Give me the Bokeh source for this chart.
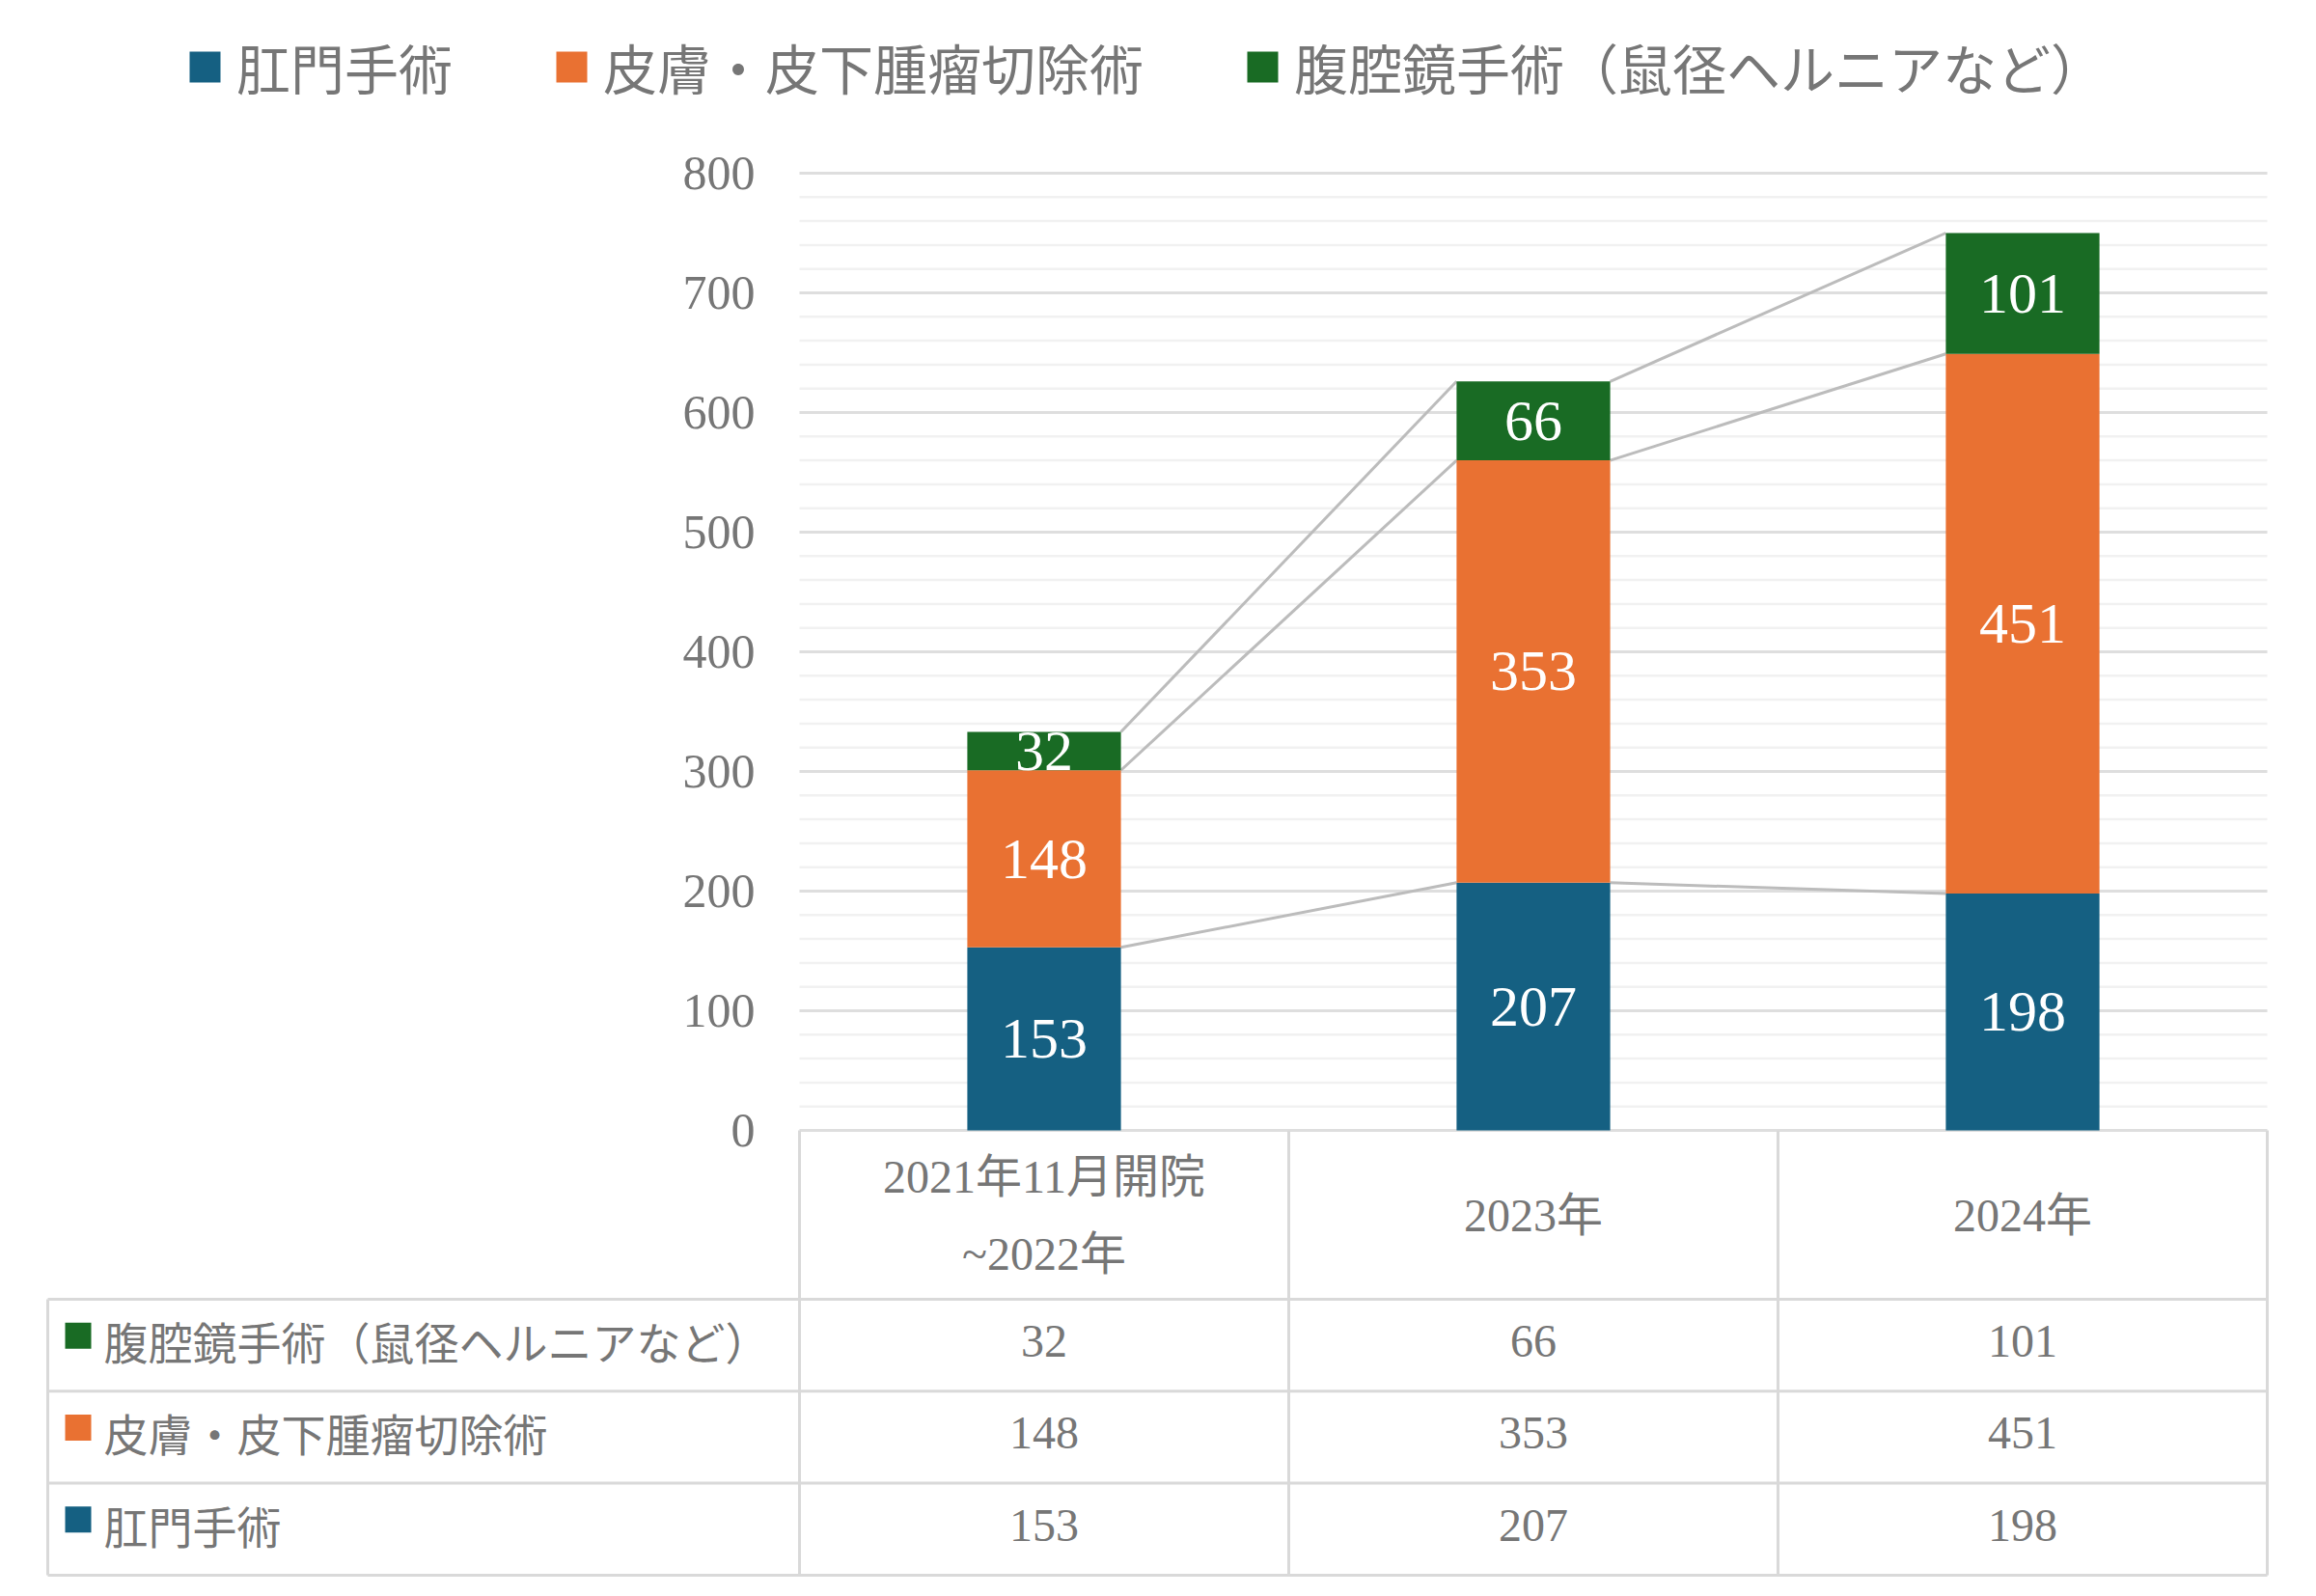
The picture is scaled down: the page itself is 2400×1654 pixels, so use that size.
from bokeh.plotting import figure
from bokeh.models import ColumnDataSource, Range1d, Legend, LegendItem, FixedTicker
from bokeh.core.properties import value
from bokeh.embed import file_html
from bokeh.resources import INLINE

# ---------------- data ----------------
categories = ["2021年11月開院\n~2022年", "2023年", "2024年"]
series_names = ["肛門手術", "皮膚・皮下腫瘤切除術", "腹腔鏡手術（鼠径ヘルニアなど）"]
anal = [153, 207, 198]
skin = [148, 353, 451]
lap = [32, 66, 101]
series_colors = ["#156082", "#E97132", "#196B24"]
y_max = 800
y_step = 100
y_minor = 20

# ---------------- style / layout ----------------
SERIF = "Liberation Serif"
CJK = "Noto Sans CJK JP"
MIXED = "Liberation Serif, Noto Sans CJK JP"
GRAY = "#767676"
GRID = "#dedede"
MINOR = "#f1f1f1"
BORDER = "#d9d9d9"

W, H = 2384, 1638
n = len(categories)
PLOT_L, PLOT_R = 828, 2349      # px of value-area left / right
PLOT_T, PLOT_B = 179, 1171      # px of y_max / 0
CAT_W = (PLOT_R - PLOT_L) / n
PPU = (PLOT_B - PLOT_T) / y_max  # px per value unit
BAR_W = 0.314


def px_x(px):
    return (px - PLOT_L) / CAT_W


def px_y(off):  # pixels below the zero line -> value units
    return -off / PPU


p = figure(width=W, height=H, title=None,
           x_range=Range1d(px_x(0), px_x(W)),
           y_range=Range1d(-(H - PLOT_B) / PPU, PLOT_B / PPU),
           output_backend="svg", toolbar_location=None, x_axis_location=None,
           min_border=0)
p.outline_line_color = None
p.xgrid.visible = False
p.ygrid.visible = False

ax = p.yaxis[0]
ax.fixed_location = 0
ax.ticker = FixedTicker(ticks=list(range(0, y_max + 1, y_step)))
ax.axis_line_color = None
ax.major_tick_line_color = None
ax.minor_tick_line_color = None
ax.major_tick_out = 0
ax.major_tick_in = 0
ax.major_label_standoff = 46
ax.major_label_text_font = SERIF
ax.major_label_text_font_size = "50px"
ax.major_label_text_color = GRAY

# grid lines (limited to the value area)
minor_y = [v for v in range(0, y_max + 1, y_minor) if v % y_step]
major_y = list(range(0, y_max + 1, y_step))
p.segment(x0=0, x1=n, y0=minor_y, y1=minor_y, line_color=MINOR, line_width=2.5)
p.segment(x0=0, x1=n, y0=major_y, y1=major_y, line_color=GRID, line_width=3)

series = [anal, skin, lap]
keys = ["s0", "s1", "s2"]
xs = [i + 0.5 for i in range(n)]
data = {"x": xs}
for k, s in zip(keys, series):
    data[k] = s
src = ColumnDataSource(data)

# connector lines between stacked tops
cum = []
run = [0] * n
for s in series:
    run = [a + b for a, b in zip(run, s)]
    cum.append(run)
hw = BAR_W / 2
seg = {"x0": [], "y0": [], "x1": [], "y1": []}
for tops in cum:
    for i in range(n - 1):
        seg["x0"].append(xs[i] + hw)
        seg["y0"].append(tops[i])
        seg["x1"].append(xs[i + 1] - hw)
        seg["y1"].append(tops[i + 1])
p.segment(x0="x0", y0="y0", x1="x1", y1="y1", source=ColumnDataSource(seg),
          line_color="#bcbcbc", line_width=3)

rs = p.vbar_stack(keys, x="x", width=BAR_W, source=src, fill_color=series_colors,
                  line_color=None)

# data labels
lab = {"x": [], "y": [], "t": []}
base = [0] * n
for s in series:
    for i in range(n):
        lab["x"].append(xs[i])
        lab["y"].append(base[i] + s[i] / 2)
        lab["t"].append(str(s[i]))
    base = [a + b for a, b in zip(base, s)]
p.text(x="x", y="y", text="t", source=ColumnDataSource(lab), text_color="white",
       text_font=value(SERIF), text_font_size="60px", text_align="center",
       text_baseline="middle")

legend = Legend(items=[LegendItem(label=nm, renderers=[r]) for nm, r in zip(series_names, rs)],
                orientation="horizontal", location=(192, H - 109),
                label_text_font=CJK, label_text_font_size="56px", label_text_color=GRAY,
                glyph_width=40, glyph_height=40, label_standoff=13, spacing=103,
                padding=0, margin=0, border_line_color=None, background_fill_alpha=0)
p.add_layout(legend, "center")

# ---------------- table ----------------
HEADER_H = 175
ROW_H = 95.3
x_left = px_x(49)
row_edges = [HEADER_H + ROW_H * k for k in range(len(series) + 1)]

lines = {"x0": [], "y0": [], "x1": [], "y1": []}


def L(a, b, c, d):
    lines["x0"].append(a); lines["y0"].append(b); lines["x1"].append(c); lines["y1"].append(d)


for i in range(n + 1):
    L(i, 0, i, px_y(row_edges[-1]))
L(x_left, px_y(row_edges[0]), x_left, px_y(row_edges[-1]))
for ye in row_edges:
    L(x_left, px_y(ye), n, px_y(ye))
p.segment(x0="x0", y0="y0", x1="x1", y1="y1", source=ColumnDataSource(lines),
          line_color=BORDER, line_width=3)

# header labels
hd = {"x": [], "y": [], "t": []}
LINE_GAP = 80
for i, c in enumerate(categories):
    parts = c.split("\n")
    for k, part in enumerate(parts):
        hd["x"].append(xs[i])
        hd["y"].append(px_y(HEADER_H / 2 + (k - (len(parts) - 1) / 2) * LINE_GAP))
        hd["t"].append(part)
p.text(x="x", y="y", text="t", source=ColumnDataSource(hd), text_color=GRAY,
       text_font=value(MIXED), text_font_size="48px", text_align="center",
       text_baseline="middle")

# rows: top row is last series
order = list(range(len(series)))[::-1]
rl = {"y": [], "t": [], "c": [], "sy": []}
vals = {"x": [], "y": [], "t": []}
for r, si in enumerate(order):
    yc = (row_edges[r] + row_edges[r + 1]) / 2
    rl["y"].append(px_y(yc - 5))
    rl["sy"].append(px_y(yc - 10))
    rl["t"].append(series_names[si])
    rl["c"].append(series_colors[si])
    for i in range(n):
        vals["x"].append(xs[i])
        vals["y"].append(px_y(yc - 4))
        vals["t"].append(str(series[si][i]))
rsrc = ColumnDataSource(rl)
p.scatter(x=px_x(80.5), y="sy", marker="square", size=27, fill_color="c",
          line_color=None, source=rsrc)
p.text(x=px_x(107), y="y", text="t", source=rsrc, text_color=GRAY, text_font=value(CJK),
       text_font_size="46px", text_align="left", text_baseline="middle")
p.text(x="x", y="y", text="t", source=ColumnDataSource(vals), text_color=GRAY,
       text_font=value(SERIF), text_font_size="48px", text_align="center",
       text_baseline="middle")

open("out.html", "w").write(file_html(p, INLINE))
